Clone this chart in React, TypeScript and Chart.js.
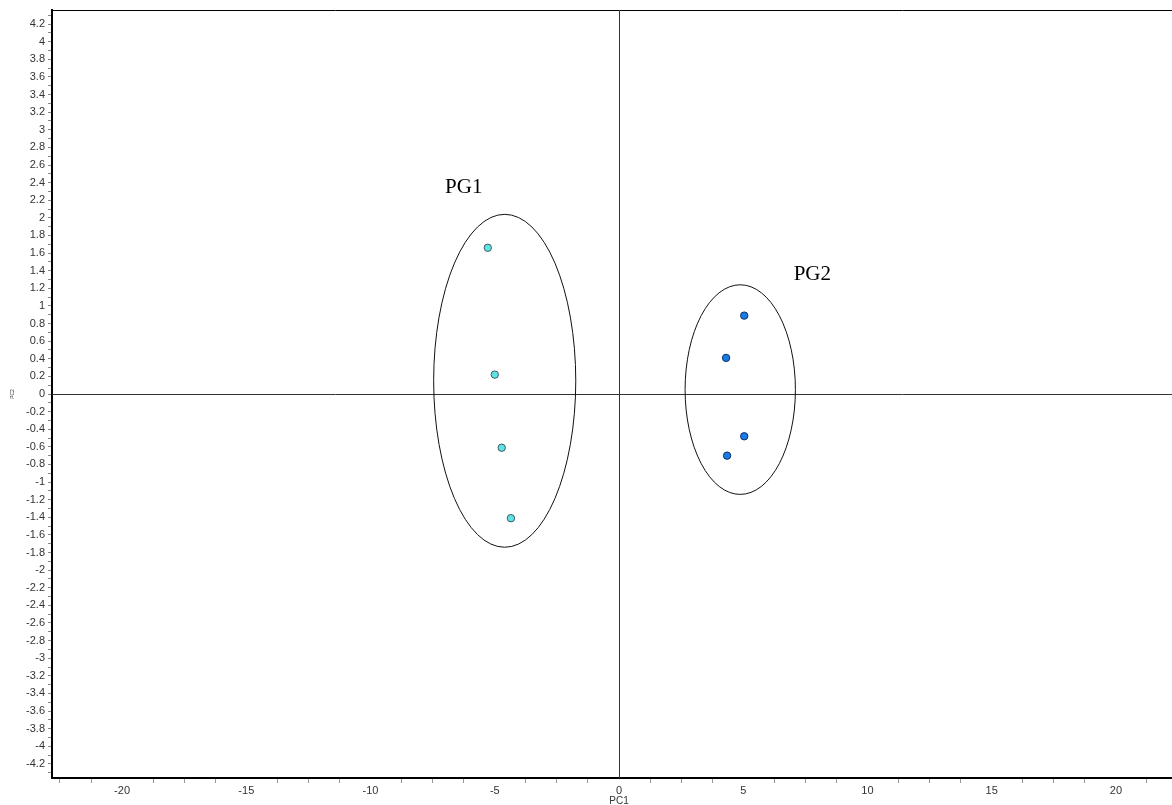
import React, { useEffect, useRef } from "react";
import { Chart, registerables } from "chart.js";

Chart.register(...registerables);

// Scores (PC1, PC2)
const pg1X = [-5.28, -5.0, -4.72, -4.35];
const pg1Y = [1.66, 0.22, -0.61, -1.41];
const pg2X = [5.04, 4.31, 5.04, 4.35];
const pg2Y = [0.89, 0.41, -0.48, -0.7];

// Group ellipses
const groupNames = ["PG1", "PG2"];
const ellipseCX = [-4.6, 4.88];
const ellipseCY = [0.15, 0.05];
const ellipseRX = [2.86, 2.22];
const ellipseRY = [1.89, 1.19];
const labelX = [-6.25, 7.78];
const labelY = [2.35, 1.36];

// Axes
const xLabels = [-20, -15, -10, -5, 0, 5, 10, 15, 20];
const xMinorStep = 1.25;
const yLabelStep = 0.2;
const yMinorStep = 0.1;
const xRange = [-22.82, 22.82];
const yRange = [-4.36, 4.36];
const xTitle = "PC1";
const yTitle = "PC2";

const W = 1191;
const H = 805;
const FONT = "'Liberation Sans', Arial, sans-serif";

const overlayPlugin = {
  id: "overlay",
  beforeDatasetsDraw(chart: any) {
    const { ctx, chartArea, scales } = chart;
    const xs = scales.x;
    const ys = scales.y;
    ctx.save();
    // top border
    ctx.strokeStyle = "#000";
    ctx.lineWidth = 1;
    ctx.beginPath();
    ctx.moveTo(chartArea.left, chartArea.top + 0.5);
    ctx.lineTo(chartArea.right, chartArea.top + 0.5);
    ctx.stroke();
    // zero lines
    ctx.strokeStyle = "#333";
    const x0 = Math.round(xs.getPixelForValue(0)) + 0.5;
    const y0 = Math.round(ys.getPixelForValue(0)) + 0.5;
    ctx.beginPath();
    ctx.moveTo(x0, chartArea.top);
    ctx.lineTo(x0, chartArea.bottom);
    ctx.moveTo(chartArea.left, y0);
    ctx.lineTo(chartArea.right, y0);
    ctx.stroke();
    // ellipses
    ctx.strokeStyle = "#111";
    ctx.lineWidth = 1;
    for (let i = 0; i < groupNames.length; i++) {
      const cx = xs.getPixelForValue(ellipseCX[i]);
      const cy = ys.getPixelForValue(ellipseCY[i]);
      const rx = Math.abs(xs.getPixelForValue(ellipseCX[i] + ellipseRX[i]) - cx);
      const ry = Math.abs(ys.getPixelForValue(ellipseCY[i] + ellipseRY[i]) - cy);
      ctx.beginPath();
      ctx.ellipse(cx, cy, rx, ry, 0, 0, Math.PI * 2);
      ctx.stroke();
    }
    // group labels
    ctx.fillStyle = "#000";
    ctx.font = "21px 'Liberation Serif', 'Times New Roman', serif";
    ctx.textAlign = "center";
    ctx.textBaseline = "middle";
    for (let i = 0; i < groupNames.length; i++) {
      ctx.fillText(groupNames[i], xs.getPixelForValue(labelX[i]), ys.getPixelForValue(labelY[i]));
    }
    ctx.restore();
  },
  afterDraw(chart: any) {
    const { ctx, scales } = chart;
    const xs = scales.x;
    const ys = scales.y;
    ctx.save();
    ctx.fillStyle = "#333";
    ctx.textAlign = "center";
    ctx.textBaseline = "middle";
    ctx.font = `10px ${FONT}`;
    ctx.fillText(xTitle, xs.getPixelForValue(0), 801);
    ctx.translate(13, ys.getPixelForValue(0));
    ctx.rotate(-Math.PI / 2);
    ctx.font = `5px ${FONT}`;
    ctx.fillText(yTitle, 0, 0);
    ctx.restore();
  },
};

export default function App() {
  const ref = useRef<HTMLCanvasElement>(null);

  useEffect(() => {
    if (!ref.current) return;
    const isMajorX = (v: number) => Math.abs(v / 5 - Math.round(v / 5)) < 1e-6;
    const isMajorY = (v: number) =>
      Math.abs(v / yLabelStep - Math.round(v / yLabelStep)) < 1e-6;

    const chart = new Chart(ref.current, {
      type: "scatter",
      data: {
        datasets: [
          {
            label: groupNames[0],
            data: pg1X.map((x, i) => ({ x, y: pg1Y[i] })),
            backgroundColor: "#5fe3e3",
            borderColor: "#3d5a66",
            borderWidth: 1,
            pointRadius: 3.7,
          },
          {
            label: groupNames[1],
            data: pg2X.map((x, i) => ({ x, y: pg2Y[i] })),
            backgroundColor: "#1b7be6",
            borderColor: "#0c2f66",
            borderWidth: 1,
            pointRadius: 3.7,
          },
        ],
      },
      options: {
        animation: false,
        responsive: false,
        layout: { padding: { top: 10, left: 0, right: 0, bottom: 0 } },
        plugins: { legend: { display: false }, tooltip: { enabled: false } },
        scales: {
          x: {
            type: "linear",
            min: xRange[0],
            max: xRange[1],
            border: { color: "#000", width: 2 },
            grid: {
              drawOnChartArea: false,
              tickLength: 5,
              color: (c: any) => (c.tick && isMajorX(c.tick.value) ? "rgba(0,0,0,0)" : "#999"),
            },
            afterBuildTicks: (axis: any) => {
              const t: any[] = [];
              const n = Math.floor(xRange[1] / xMinorStep);
              for (let k = -n; k <= n; k++) t.push({ value: k * xMinorStep });
              axis.ticks = t;
            },
            afterFit: (s: any) => {
              s.height = 27;
            },
            ticks: {
              autoSkip: false,
              maxRotation: 0,
              padding: 1,
              color: "#333",
              font: { family: FONT, size: 11 },
              callback: (v: any) => (xLabels.includes(Math.round(Number(v) * 100) / 100) ? String(Math.round(Number(v))) : ""),
            },
          },
          y: {
            type: "linear",
            min: yRange[0],
            max: yRange[1],
            border: { color: "#000", width: 2 },
            grid: {
              drawOnChartArea: false,
              tickLength: 4,
              color: "#888",
            },
            afterBuildTicks: (axis: any) => {
              const t: any[] = [];
              const n = Math.floor(yRange[1] / yMinorStep + 1e-9);
              for (let k = -n; k <= n; k++) t.push({ value: Math.round(k * yMinorStep * 10) / 10 });
              axis.ticks = t;
            },
            afterFit: (s: any) => {
              s.width = 52;
            },
            ticks: {
              autoSkip: false,
              padding: 3,
              color: "#333",
              font: { family: FONT, size: 11 },
              callback: (v: any) => {
                const n = Number(v);
                return isMajorY(n) ? String(Math.round(n * 10) / 10) : "";
              },
            },
          },
        },
      },
      plugins: [overlayPlugin],
    });
    return () => chart.destroy();
  }, []);

  return (
    <div
      style={{
        position: "fixed",
        left: 0,
        top: 0,
        width: 1172,
        height: 805,
        overflow: "hidden",
        background: "#fff",
      }}
    >
      <canvas ref={ref} width={W} height={H} style={{ display: "block", width: W, height: H }} />
    </div>
  );
}
